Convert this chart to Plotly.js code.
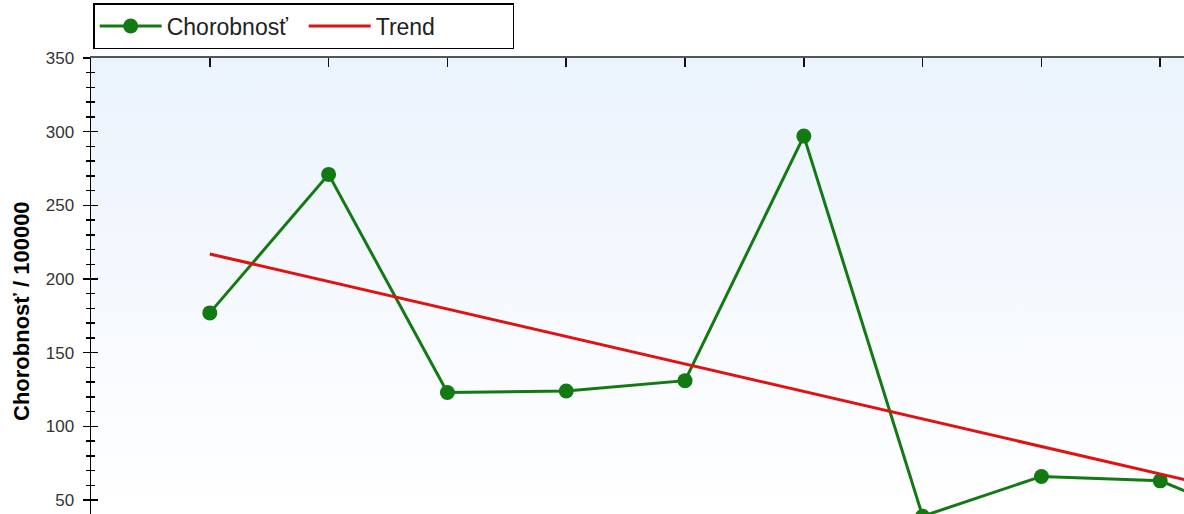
<!DOCTYPE html>
<html>
<head>
<meta charset="utf-8">
<script src="https://cdn.plot.ly/plotly-3.0.1.min.js"></script>
<style>
  html, body { margin: 0; padding: 0; background: #ffffff; overflow: hidden; }
  #wrap { position: relative; width: 1184px; height: 514px; }
  #bg { position: absolute; left: 91px; top: 58px; right: 0; bottom: 0;
        background: linear-gradient(to bottom, #ebf3fd 0%, #f4f8fe 45%, #ffffff 100%); }
  #chart { position: absolute; left: 0; top: 0; width: 1184px; height: 514px; }
</style>
</head>
<body>
<div id="wrap">
  <div id="bg"></div>
  <div id="chart"></div>
</div>
<script>
// Data
const periods = [1, 2, 3, 4, 5, 6, 7, 8, 9, 10];
const morbidity = [177, 271, 123, 124, 131, 297, 39, 66, 63, 30];
const trendX = [1, 10];
const trendY = [217, 49];
const seriesNames = ['Chorobnosť', 'Trend'];
const yTitle = 'Chorobnosť / 100000';
const yTickVals = [50, 100, 150, 200, 250, 300, 350];
const yMinorVals = [60, 70, 80, 90, 110, 120, 130, 140, 160, 170, 180, 190,
                    210, 220, 230, 240, 260, 270, 280, 290, 310, 320, 330, 340];

const yRange = [40.5, 350];
const xRange = [0, 9.2];

const traces = [
  {
    x: periods, y: morbidity, name: seriesNames[0],
    type: 'scatter', mode: 'lines+markers',
    line: { color: '#137a13', width: 3 },
    marker: { color: '#137a13', size: 15 }
  },
  {
    x: trendX, y: trendY, name: seriesNames[1],
    type: 'scatter', mode: 'lines',
    yaxis: 'y2',
    line: { color: '#e01212', width: 3 }
  }
];

const layout = {
  width: 1184, height: 514,
  margin: { l: 91, r: 0, t: 58, b: 0, pad: 0 },
  paper_bgcolor: 'rgba(0,0,0,0)',
  plot_bgcolor: 'rgba(0,0,0,0)',
  font: { family: '"Liberation Sans", Arial, sans-serif', color: '#333' },
  showlegend: true,
  legend: {
    orientation: 'h',
    x: 0.002, xanchor: 'left',
    y: 1.0197, yanchor: 'bottom',
    bordercolor: '#000', borderwidth: 1.5,
    bgcolor: '#ffffff',
    font: { size: 23, color: '#222', family: '"Liberation Sans", Arial, sans-serif' },
    entrywidth: 132, entrywidthmode: 'pixels',
    itemwidth: 62,
    traceorder: 'normal'
  },
  xaxis: {
    range: xRange, side: 'top',
    showline: true, linecolor: '#555', linewidth: 2.5,
    ticks: 'inside', ticklen: 9, tickwidth: 1.5, tickcolor: '#111',
    tickvals: periods, showticklabels: false,
    showgrid: false, zeroline: false, fixedrange: true
  },
  yaxis: {
    range: yRange,
    showline: true, linecolor: '#000', linewidth: 1.5,
    ticks: 'outside', ticklen: 7, tickwidth: 1.5, tickcolor: '#000',
    tickvals: yTickVals,
    minor: { ticks: 'outside', ticklen: 4, tickwidth: 1.5, tickcolor: '#000', tickvals: yMinorVals, showgrid: false },
    ticklabelstandoff: 5,
    tickfont: { size: 17, color: '#333' },
    showgrid: false, zeroline: false, fixedrange: true
  },
  yaxis2: {
    range: yRange, overlaying: 'y', side: 'left', anchor: 'x',
    showline: true, linecolor: '#000', linewidth: 1.5,
    ticks: 'inside', ticklen: 7, tickwidth: 1.5, tickcolor: '#000',
    tickvals: yTickVals,
    minor: { ticks: 'inside', ticklen: 4, tickwidth: 1.5, tickcolor: '#000', tickvals: yMinorVals, showgrid: false },
    showticklabels: false,
    showgrid: false, zeroline: false, fixedrange: true
  },
  annotations: [
    {
      text: yTitle, textangle: -90, showarrow: false,
      xref: 'paper', yref: 'paper',
      x: -70 / 1093, y: 1 - (311 - 58) / 456,
      xanchor: 'center', yanchor: 'middle',
      font: { size: 22, color: '#000', family: '"Liberation Sans", Arial, sans-serif', weight: 'bold' }
    }
  ]
};

Plotly.newPlot('chart', traces, layout, { displayModeBar: false, staticPlot: true });
</script>
</body>
</html>
